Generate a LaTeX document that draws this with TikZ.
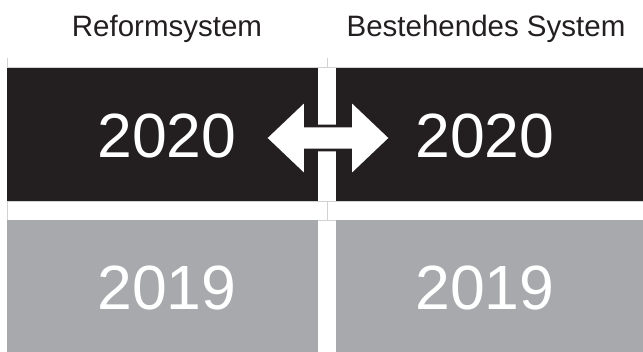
\documentclass[tikz,border=0pt]{standalone}
\usepackage{fontspec}
\setmainfont{Liberation Sans}
\usepackage{xcolor}
\definecolor{boxblack}{HTML}{231F20}
\definecolor{boxgray}{HTML}{A7A9AC}
\definecolor{rulegray}{HTML}{D2D2D2}

\begin{document}
\begin{tikzpicture}[x=1pt,y=-1pt,
    yearbox/.style={rectangle,inner sep=0,minimum width=311,minimum height=133},
    yeartext/.style={anchor=base,inner sep=0,text=white,font=\fontsize{62.5}{70}\selectfont},
    headtext/.style={anchor=base,inner sep=0,text=boxblack,font=\fontsize{29.5}{34}\selectfont},
    swaparrow/.style={fill=white,draw=boxblack,line width=2.7,line join=miter}]
  \useasboundingbox (0,0) rectangle (643,352);

  % Grid
  \draw[rulegray,line width=0.8] (7,67.5) -- (643,67.5)
                                 (7,201) -- (643,201)
                                 (7,220) -- (643,220);
  \draw[rulegray,line width=0.8] (7,58) -- (7,220)
                                 (327,58) -- (327,67.5)
                                 (327,201) -- (327,220);

  % Column heads
  \node[headtext] (reformhead) at (167,37) {Reformsystem};
  \node[headtext] (oldhead) at (486,37) {Bestehendes System};

  % Boxes
  \node[yearbox,fill=boxblack] (reformnew) at (162.5,134.5) {};
  \node[yearbox,fill=boxblack,minimum width=314] (oldnew) at (493,134.5) {};
  \node[yearbox,fill=boxgray,minimum height=136] (reformold) at (162.5,288) {};
  \node[yearbox,fill=boxgray,minimum width=314,minimum height=136] (oldold) at (493,288) {};

  % Years
  \node[yeartext] (reformnewyear) at (167,158) {2020};
  \node[yeartext] (oldnewyear) at (485,158) {2020};
  \node[yeartext] (reformoldyear) at (167,310) {2019};
  \node[yeartext] (oldoldyear) at (485,310) {2019};

  % Double arrow across the gap
  \coordinate (mid) at (328,138);
  \draw[swaparrow,shift={(mid)}] (-62.5,0) -- (-22.5,-38) -- (-22.5,-12)
      -- (22.5,-12) -- (22.5,-38) -- (62.5,0) -- (22.5,38) -- (22.5,12)
      -- (-22.5,12) -- (-22.5,38) -- cycle;
\end{tikzpicture}
\end{document}
